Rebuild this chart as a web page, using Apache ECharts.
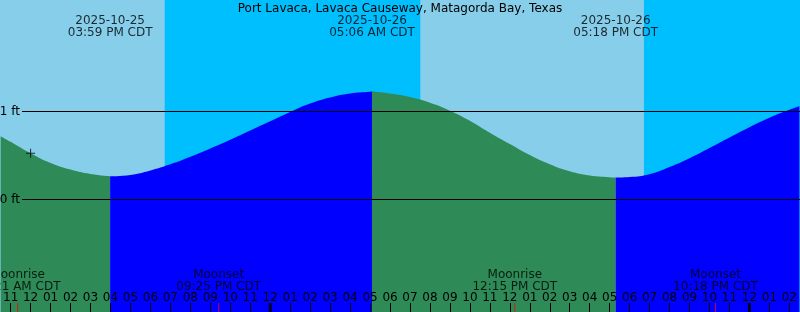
<!DOCTYPE html>
<html>
<head>
<meta charset="utf-8">
<script src="https://cdn.jsdelivr.net/npm/echarts@6/dist/echarts.min.js"></script>
<style>html,body{margin:0;padding:0;background:#00BFFF}#c{width:800px;height:312px}</style>
</head>
<body>
<div id="c"></div>
<script>
// ---- data ----
const title = 'Port Lavaca, Lavaca Causeway, Matagorda Bay, Texas';
const viewStart = '2025-10-25T10:30';
const viewEnd = '2025-10-27T02:30';
const tideTimes = [
  '2025-10-25T10:30','2025-10-25T11:00','2025-10-25T12:00','2025-10-25T13:00','2025-10-25T14:00',
  '2025-10-25T15:00','2025-10-25T15:59','2025-10-25T17:00','2025-10-25T18:00','2025-10-25T19:00',
  '2025-10-25T20:00','2025-10-25T21:00','2025-10-25T22:00','2025-10-25T23:00','2025-10-26T00:00',
  '2025-10-26T01:00','2025-10-26T02:00','2025-10-26T03:00','2025-10-26T04:00','2025-10-26T05:00',
  '2025-10-26T05:06','2025-10-26T06:00','2025-10-26T07:00','2025-10-26T08:00','2025-10-26T09:00',
  '2025-10-26T10:00','2025-10-26T11:00','2025-10-26T12:00','2025-10-26T13:00','2025-10-26T14:00',
  '2025-10-26T15:00','2025-10-26T16:00','2025-10-26T17:00','2025-10-26T17:18','2025-10-26T18:00',
  '2025-10-26T19:00','2025-10-26T20:00','2025-10-26T21:00','2025-10-26T22:00','2025-10-26T23:00',
  '2025-10-27T00:00','2025-10-27T01:00','2025-10-27T02:00','2025-10-27T02:30'
];
const tideLevels = [
  0.72, 0.655, 0.525, 0.415, 0.34,
  0.29, 0.265, 0.28, 0.33, 0.40,
  0.485, 0.58, 0.68, 0.785, 0.89,
  0.995, 1.09, 1.16, 1.205, 1.225,
  1.227, 1.205, 1.165, 1.10, 1.01,
  0.895, 0.758, 0.63, 0.505, 0.40,
  0.32, 0.272, 0.253, 0.250, 0.256,
  0.288, 0.37, 0.47, 0.585, 0.705,
  0.822, 0.93, 1.02, 1.06
];
const eventTimes = ['2025-10-25T15:59','2025-10-26T05:06','2025-10-26T17:18'];
const eventDates = ['2025-10-25','2025-10-26','2025-10-26'];
const eventLabels = ['03:59 PM CDT','05:06 AM CDT','05:18 PM CDT'];
const moonTimes = ['2025-10-25T11:21','2025-10-25T21:25','2025-10-26T12:15','2025-10-26T22:18'];
const moonNames = ['Moonrise','Moonset','Moonrise','Moonset'];
const moonLabels = ['11:21 AM CDT','09:25 PM CDT','12:15 PM CDT','10:18 PM CDT'];
const dayStarts = ['2025-10-25T07:30','2025-10-26T07:31'];
const dayEnds = ['2025-10-25T18:43','2025-10-26T18:43'];
const midnights = ['2025-10-26T00:00','2025-10-27T00:00'];
const nowTime = '2025-10-25T12:00';
const nowLevel = 0.525;
const levelLines = [1, 0];
const levelLabels = ['1 ft', '0 ft'];

// ---- helpers ----
const base = Date.UTC(2025, 9, 26, 0, 0);
function hrs(s) {
  const [d, t] = s.split('T');
  const [Y, M, D] = d.split('-').map(Number);
  const [hh, mm] = t.split(':').map(Number);
  return (Date.UTC(Y, M - 1, D, hh, mm) - base) / 3600000;
}
const xMin = hrs(viewStart), xMax = hrs(viewEnd);
const yMin = -1.278, yMax = 2.267;
const FONT = 'DejaVu Sans';
const tidePts = tideTimes.map((t, i) => [hrs(t), tideLevels[i]]);

// split tide into rising / falling segments at the tide events
const bounds = [xMin, ...eventTimes.map(hrs), xMax];
const tideSeries = [];
for (let s = 0; s < bounds.length - 1; s++) {
  const seg = tidePts.filter(p => p[0] >= bounds[s] - 1e-9 && p[0] <= bounds[s + 1] + 1e-9);
  const rising = seg[seg.length - 1][1] > seg[0][1];
  tideSeries.push({
    type: 'line', data: seg, xAxisIndex: 0, yAxisIndex: 0,
    showSymbol: false, smooth: 0.5, silent: true, z: 2,
    lineStyle: { width: 0 },
    areaStyle: { color: rising ? '#0000FF' : '#2E8B57', opacity: 1, origin: 'start' }
  });
}

const hourTicks = [];
for (let h = Math.ceil(xMin); h <= Math.floor(xMax); h++) hourTicks.push(h);
function hourLabel(v) {
  const h = ((Math.round(v) % 24) + 24) % 24;
  const h12 = h % 12 === 0 ? 12 : h % 12;
  return String(h12).padStart(2, '0');
}

const chart = echarts.init(document.getElementById('c'));
chart.setOption({
  animation: false,
  backgroundColor: '#00BFFF',
  title: {
    text: title, left: 'center', top: -2,
    textStyle: { fontFamily: FONT, fontSize: 12, fontWeight: 'normal', color: '#000', lineHeight: 12 }
  },
  grid: [
    { left: 0, right: 0, top: 0, bottom: 0 },
    { left: 22, right: 0, top: 0, bottom: 0 }
  ],
  xAxis: [
    {
      type: 'value', gridIndex: 0, min: xMin, max: xMax, z: 10, position: 'bottom',
      axisLine: { show: false, onZero: false },
      splitLine: { show: false },
      axisTick: { show: true, inside: true, length: 9, customValues: hourTicks, lineStyle: { color: '#000', width: 1 } },
      axisLabel: { show: true, inside: true, margin: 8, customValues: hourTicks, formatter: hourLabel,
        fontFamily: FONT, fontSize: 12, color: '#000' }
    },
    { type: 'value', gridIndex: 1, min: xMin, max: xMax, show: false, axisLine: { onZero: false } }
  ],
  yAxis: [
    { type: 'value', gridIndex: 0, min: yMin, max: yMax, show: false, axisLine: { show: false, onZero: false } },
    { type: 'value', gridIndex: 1, min: yMin, max: yMax, show: false, axisLine: { show: false, onZero: false } }
  ],
  series: [
    {
      // daylight bands
      type: 'custom', xAxisIndex: 0, yAxisIndex: 0, z: 0, silent: true, clip: false,
      data: dayStarts.map((s, i) => [hrs(s), hrs(dayEnds[i])]),
      encode: { x: [0, 1] },
      renderItem: function (params, api) {
        const p0 = api.coord([api.value(0), yMax]);
        const p1 = api.coord([api.value(1), yMin]);
        return {
          type: 'rect',
          shape: { x: p0[0], y: p0[1], width: p1[0] - p0[0], height: p1[1] - p0[1] },
          style: { fill: '#87CEEB' }
        };
      }
    },
    ...tideSeries,
    {
      type: 'line', data: [], xAxisIndex: 1, yAxisIndex: 1, z: 5, silent: true,
      markLine: {
        silent: true, symbol: ['none', 'none'],
        lineStyle: { color: '#000', width: 1, type: 'solid' },
        label: { show: true, position: 'start', distance: 2, formatter: '{b}',
          fontFamily: FONT, fontSize: 12, color: '#000' },
        data: levelLines.map((v, i) => ({ yAxis: v, name: levelLabels[i] }))
      }
    },
    {
      // current time marker
      type: 'scatter', xAxisIndex: 0, yAxisIndex: 0, z: 6, silent: true,
      data: [[hrs(nowTime), nowLevel]],
      symbol: 'path://M0,4h9v1h-9z M4,0h1v9h-1z', symbolSize: 9,
      itemStyle: { color: '#000' }
    },
    {
      // midnight ticks
      type: 'scatter', xAxisIndex: 0, yAxisIndex: 0, z: 11, silent: true,
      data: midnights.map(t => [hrs(t), yMin]),
      symbol: 'rect', symbolSize: [3, 9], symbolOffset: [0, -4.5],
      itemStyle: { color: '#000' }
    },
    {
      // moon event ticks
      type: 'scatter', xAxisIndex: 0, yAxisIndex: 0, z: 11, silent: true,
      data: moonTimes.map(t => [hrs(t), yMin]),
      symbol: 'rect', symbolSize: [1, 9], symbolOffset: [0, -4.5],
      itemStyle: { color: '#FF0000' }
    },
    {
      // moon labels
      type: 'scatter', xAxisIndex: 0, yAxisIndex: 0, z: 11, silent: true,
      data: moonTimes.map((t, i) => ({ value: [hrs(t), yMin], name: moonNames[i] + '\n' + moonLabels[i] })),
      symbolSize: 1, itemStyle: { color: 'transparent' },
      label: { show: true, position: 'top', distance: 18, formatter: '{b}', align: 'center',
        fontFamily: FONT, fontSize: 12, lineHeight: 12.5, color: '#000' }
    },
    {
      // tide event labels
      type: 'scatter', xAxisIndex: 0, yAxisIndex: 0, z: 11, silent: true,
      data: eventTimes.map((t, i) => ({ value: [hrs(t), yMax], name: eventDates[i] + '\n' + eventLabels[i] })),
      symbolSize: 1, itemStyle: { color: 'transparent' },
      label: { show: true, position: 'bottom', distance: 14, formatter: '{b}', align: 'center',
        fontFamily: FONT, fontSize: 12, lineHeight: 12, color: '#000' }
    }
  ]
});
</script>
</body>
</html>
